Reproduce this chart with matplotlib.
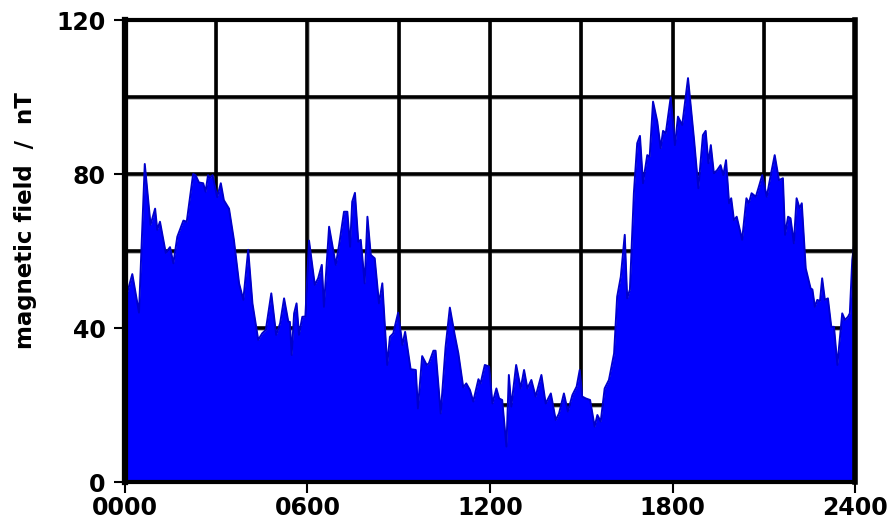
import matplotlib
matplotlib.use("Agg")
import matplotlib.pyplot as plt

# time of day (hhmm-scale, 0..2400) and field magnitude (nT)
times = [0, 24, 37, 46, 65, 84, 99, 106, 115, 134, 148, 159, 172, 192, 203, 224, 232,
         243, 257, 265, 273, 279, 288, 303, 315, 325, 342, 358, 375, 389, 405, 419, 438,
         451, 463, 481, 497, 510, 523, 537, 542, 548, 556, 564, 572, 583, 593, 605, 624,
         635, 647, 654, 671, 693, 704, 720, 731, 740, 747, 756, 767, 775, 788, 797, 808,
         821, 835, 846, 862, 871, 882, 898, 912, 921, 939, 956, 963, 977, 992, 999, 1014,
         1021, 1038, 1054, 1068, 1084, 1096, 1112, 1122, 1134, 1145, 1162, 1169, 1183,
         1197, 1208, 1221, 1230, 1240, 1254, 1262, 1270, 1286, 1301, 1312, 1323, 1336,
         1350, 1369, 1383, 1400, 1416, 1427, 1443, 1456, 1471, 1485, 1495, 1503, 1515,
         1529, 1544, 1553, 1564, 1577, 1591, 1608, 1618, 1630, 1643, 1651, 1660, 1673,
         1684, 1693, 1703, 1717, 1725, 1736, 1750, 1761, 1769, 1778, 1794, 1808, 1818,
         1832, 1851, 1871, 1885, 1900, 1909, 1918, 1926, 1936, 1947, 1958, 1967, 1976,
         1986, 1993, 2002, 2011, 2029, 2043, 2051, 2060, 2074, 2084, 2095, 2110, 2123,
         2136, 2150, 2163, 2170, 2180, 2188, 2199, 2208, 2218, 2225, 2238, 2254, 2260,
         2268, 2276, 2285, 2292, 2301, 2311, 2322, 2331, 2342, 2358, 2367, 2377, 2383,
         2391, 2400]
field = [47.0, 54.0, 48.0, 44.0, 82.6, 66.8, 71.0, 65.5, 67.6, 59.5, 61.0, 56.8, 63.7,
         67.9, 67.6, 80.0, 79.7, 77.8, 77.6, 75.4, 79.7, 79.0, 79.7, 74.0, 77.6, 73.2,
         71.0, 62.9, 51.6, 47.3, 60.3, 46.4, 36.9, 38.6, 39.5, 49.0, 38.2, 41.2, 47.7,
         41.6, 41.6, 33.0, 43.8, 46.4, 38.2, 42.9, 43.0, 62.7, 51.2, 52.9, 56.4, 45.5,
         66.3, 56.4, 61.6, 70.2, 70.2, 61.1, 72.8, 75.1, 62.4, 62.9, 51.6, 68.9, 59.0,
         58.1, 46.4, 51.6, 30.4, 37.7, 38.6, 44.0, 35.6, 39.0, 29.3, 29.1, 19.1, 32.7,
         30.4, 30.8, 34.1, 34.1, 17.8, 35.1, 45.3, 38.2, 33.4, 24.6, 25.6, 23.9, 20.9,
         26.7, 25.6, 30.4, 30.0, 20.4, 24.3, 21.7, 21.3, 9.2, 27.8, 19.6, 30.4, 24.3,
         29.1, 24.3, 26.5, 22.2, 27.8, 20.4, 23.0, 16.1, 17.8, 23.0, 18.3, 22.6, 24.8,
         29.1, 22.2, 21.7, 21.3, 14.4, 17.4, 15.7, 24.3, 26.5, 33.4, 48.1, 53.3, 64.2,
         47.7, 50.0, 75.0, 88.0, 89.9, 77.6, 84.9, 84.5, 98.8, 93.6, 86.7, 91.2, 90.6,
         99.9, 87.5, 94.9, 92.7, 104.9, 88.8, 76.3, 90.1, 91.2, 82.8, 87.5, 80.2, 81.0,
         82.3, 79.7, 83.6, 72.4, 73.7, 68.0, 68.9, 62.9, 73.7, 72.4, 75.0, 74.1, 76.7,
         79.7, 74.1, 79.7, 84.9, 78.4, 78.9, 64.2, 68.9, 68.5, 62.0, 73.7, 71.1, 72.4,
         55.5, 50.3, 50.0, 45.5, 47.3, 47.0, 52.9, 47.3, 47.7, 40.3, 40.3, 30.4, 43.8,
         42.1, 42.9, 43.8, 57.7, 63.7]

xticks = [0, 600, 1200, 1800, 2400]
xticklabels = ["0000", "0600", "1200", "1800", "2400"]
yticks = [0, 40, 80, 120]
yticklabels = ["0", "40", "80", "120"]

plt.rcParams['font.family'] = ['DejaVu Sans']
plt.rcParams['font.weight'] = 'bold'

fig = plt.figure(figsize=(8.95, 5.28), dpi=100)
ax = fig.add_axes([125/895, 1-482/528, 730/895, 462/528])

ax.set_xlim(0, 2400)
ax.set_ylim(0, 120)

# grid with faint grey shadow
for gx in range(300, 2400, 300):
    ax.axvline(gx + 4, color='#b0b0b0', lw=1.2, zorder=0.9)
    ax.axvline(gx, color='black', lw=2.6, zorder=1)
for gy in range(20, 120, 20):
    ax.axhline(gy - 0.45, color='#b0b0b0', lw=1.2, zorder=0.9)
    ax.axhline(gy, color='black', lw=2.6, zorder=1)

ax.fill_between(times, field, 0, color='#0000FF', lw=0, zorder=2)
ax.plot(times, field, color='#0000CC', lw=1.4, zorder=3)

ax.set_xticks(xticks)
ax.set_xticklabels(xticklabels, fontsize=17, fontweight='bold')
ax.set_yticks(yticks)
ax.set_yticklabels(yticklabels, fontsize=17, fontweight='bold')
ax.tick_params(axis='both', direction='out', length=8, width=1.5, color='black', pad=6)
ax.tick_params(axis='x', pad=2)

ax.set_ylabel("magnetic field  /  nT", fontsize=16.5, fontweight='bold')
ax.yaxis.set_label_coords(-0.12, 0.565)

for side, w in [('left', 4.5), ('bottom', 3.0), ('top', 3.0), ('right', 4.0)]:
    ax.spines[side].set_linewidth(w)
    ax.spines[side].set_color('black')
    ax.spines[side].set_zorder(5)

fig.savefig("out.png", dpi=100)
